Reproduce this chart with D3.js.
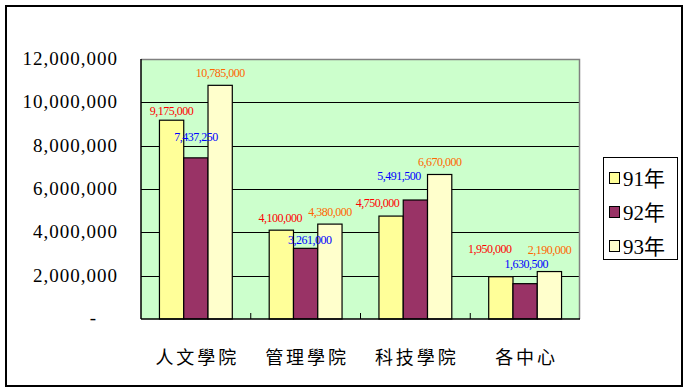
<!DOCTYPE html>
<html><head><meta charset="utf-8">
<script src="https://cdn.jsdelivr.net/npm/d3@7"></script>
<style>
html,body{margin:0;padding:0;background:#fff;}
svg{display:block;}
</style></head>
<body>
<svg id="chart" width="688" height="391"></svg>
<script>
// ---- data ----
const categories = ["人文學院", "管理學院", "科技學院", "各中心"];
const seriesNames = ["91年", "92年", "93年"];
const values91 = [9175000, 4100000, 4750000, 1950000];
const values92 = [7437250, 3261000, 5491500, 1630500];
const values93 = [10785000, 4380000, 6670000, 2190000];
const yTicks = [0, 2000000, 4000000, 6000000, 8000000, 10000000, 12000000];

// ---- style / layout ----
const barColors = ["#FFFF99", "#993366", "#FFFFCC"];
const labelColors = ["#FF0000", "#0000FF", "#FF6600"];
// manual label nudges (dx, dy of label centre relative to bar top centre)
const labelNudge = [
  [[0,-9],[-1,-12],[-13.5,-13],[-11,-28]],
  [[0,-21],[4,-8.5],[-16.5,-24.5],[1,-19.5]],
  [[0,-12.5],[0,-12.5],[0,-12.8],[0,-22]]
];

const svg = d3.select("#chart");
const plot = {left:141, top:59, right:580, bottom:319};

const seriesValues = [values91, values92, values93];

// outer border
svg.append("rect").attr("x",6).attr("y",6).attr("width",676).attr("height",380)
  .attr("fill","#fff").attr("stroke","#000").attr("stroke-width",2);

const x = d3.scaleBand().domain(categories).range([plot.left, plot.right]).padding(0);
const xi = d3.scaleBand().domain(seriesNames).range([0, x.bandwidth()]).paddingInner(0).paddingOuter(0.76);
const y = d3.scaleLinear().domain([0, 12000000]).range([plot.bottom, plot.top]);

// plot background
svg.append("rect").attr("x",plot.left).attr("y",plot.top)
  .attr("width",plot.right-plot.left).attr("height",plot.bottom-plot.top)
  .attr("fill","#CCFFCC");

// gridlines
svg.append("g").selectAll("line").data(yTicks.filter(t=>t>0 && t<12000000)).join("line")
  .attr("x1",plot.left).attr("x2",plot.right)
  .attr("y1",d=>Math.round(y(d))+0.5).attr("y2",d=>Math.round(y(d))+0.5)
  .attr("stroke","#000").attr("stroke-width",1);

// top & right gray border
svg.append("path")
  .attr("d",`M${plot.left},${plot.top+0.5}H${plot.right-0.5}V${plot.bottom}`)
  .attr("fill","none").attr("stroke","#808080").attr("stroke-width",1.5);

// bars
const groups = svg.append("g").selectAll("g").data(categories).join("g")
  .attr("transform",d=>`translate(${x(d)},0)`);
seriesNames.forEach((s, si) => {
  groups.append("rect")
    .attr("x", xi(s))
    .attr("y", (d,ci) => y(seriesValues[si][ci]))
    .attr("width", xi.bandwidth())
    .attr("height", (d,ci) => y(0) - y(seriesValues[si][ci]))
    .attr("fill", barColors[si])
    .attr("stroke","#000").attr("stroke-width",1.2);
});

// x axis with inner ticks at group boundaries
const xAxis = svg.append("g").attr("transform",`translate(0,${plot.bottom})`);
xAxis.append("line").attr("x1",plot.left).attr("x2",plot.right).attr("y1",0).attr("y2",0)
  .attr("stroke","#000").attr("stroke-width",1.5);
xAxis.selectAll("line.tk").data(categories.slice(1)).join("line").attr("class","tk")
  .attr("x1",d=>x(d)).attr("x2",d=>x(d)).attr("y1",0).attr("y2",-6)
  .attr("stroke","#000").attr("stroke-width",1);
xAxis.selectAll("text").data(categories).join("text")
  .attr("x",d=>x(d)+x.bandwidth()/2+1.5).attr("y",45)
  .attr("text-anchor","middle")
  .attr("font-family","'Noto Sans CJK TC','Noto Sans CJK SC',sans-serif")
  .attr("font-size",18).attr("letter-spacing",3).attr("fill","#000")
  .text(d=>d);

// y axis
svg.append("line").attr("x1",plot.left).attr("x2",plot.left).attr("y1",plot.top).attr("y2",plot.bottom)
  .attr("stroke","#000").attr("stroke-width",1.5);
const fmt = d3.format(",");
svg.append("g").selectAll("text").data(yTicks).join("text")
  .attr("x", d => d===0 ? 96 : 118)
  .attr("y", d => y(d) + (d===0 ? 5 : 6))
  .attr("text-anchor","end")
  .attr("font-family","'Liberation Serif','Times New Roman',serif")
  .attr("font-size",19).attr("letter-spacing",d=>d===0?0:1).attr("fill","#000")
  .text(d => d===0 ? "-" : fmt(d));

// data labels
seriesNames.forEach((s, si) => {
  groups.append("text")
    .attr("x", (d,ci) => xi(s) + xi.bandwidth()/2 + labelNudge[si][ci][0])
    .attr("y", (d,ci) => y(seriesValues[si][ci]) + labelNudge[si][ci][1])
    .attr("dy","0.35em")
    .attr("text-anchor","middle")
    .attr("font-family","'Liberation Serif','Times New Roman',serif")
    .attr("font-size",12).attr("letter-spacing",-0.5).attr("fill",labelColors[si])
    .text((d,ci) => fmt(seriesValues[si][ci]));
});

// legend
const lg = svg.append("g");
lg.append("rect").attr("x",603.5).attr("y",157.5).attr("width",74).attr("height",102)
  .attr("fill","#fff").attr("stroke","#000").attr("stroke-width",1);
const legendRows = lg.selectAll("g").data(seriesNames).join("g")
  .attr("transform",(d,i)=>`translate(0,${178 + i*34})`);
legendRows.append("rect").attr("x",609.5).attr("y",-5.5).attr("width",10).attr("height",11)
  .attr("fill",(d,i)=>barColors[i]).attr("stroke","#000").attr("stroke-width",1);
legendRows.append("text").attr("x",623).attr("y",7.5)
  .attr("font-family","'Liberation Serif','Noto Sans CJK TC',serif")
  .attr("font-size",21).attr("fill","#000")
  .text(d=>d);
</script>
</body></html>
